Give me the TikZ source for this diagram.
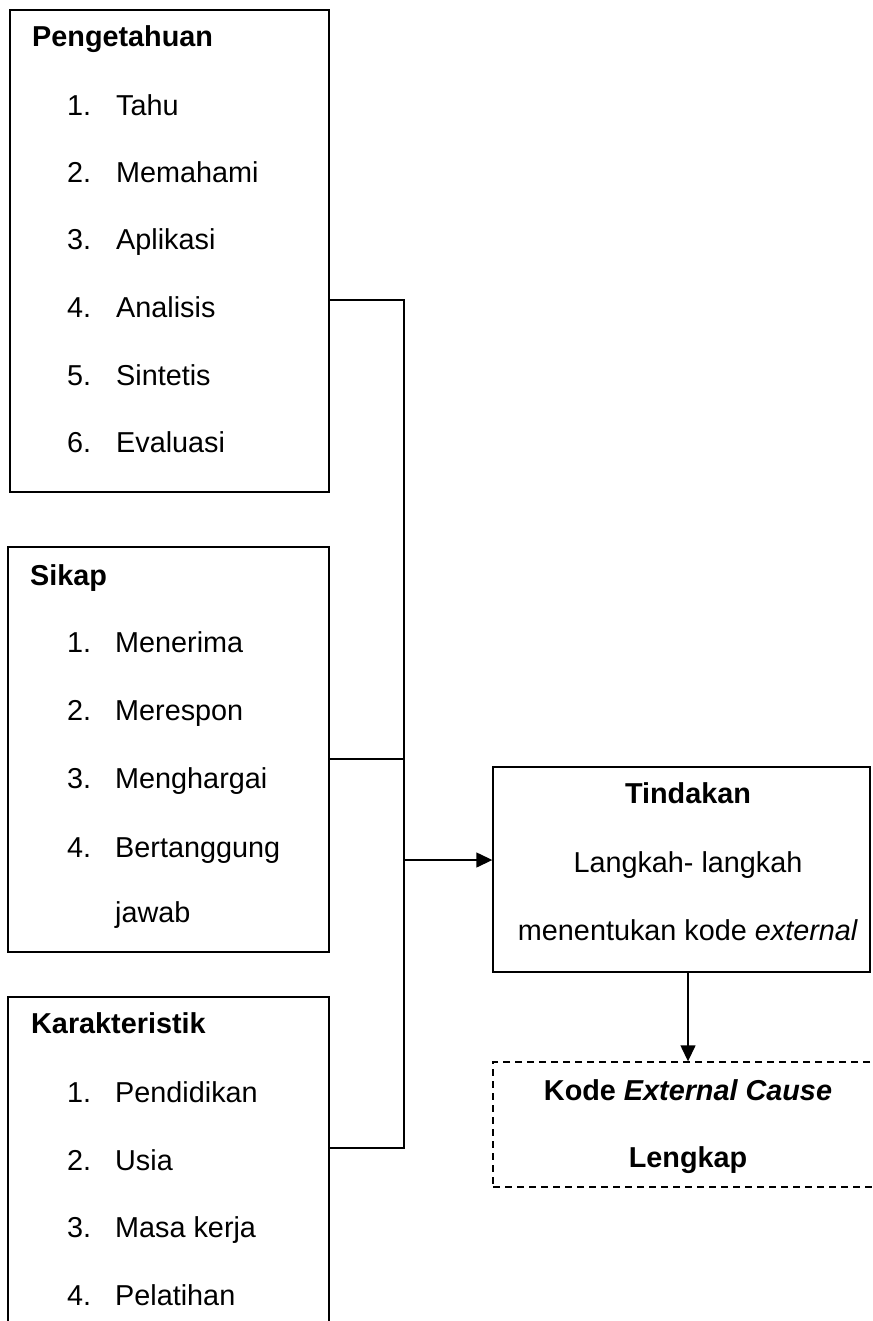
\documentclass[tikz,border=0pt]{standalone}
\usepackage{fontspec}
\setmainfont{Liberation Sans}
\usetikzlibrary{arrows.meta}
\tikzset{
  box/.style={draw=black, line width=1.4pt, inner sep=0pt, fill=none},
  dbox/.style={draw=black, line width=1.4pt, inner sep=0pt, dash pattern=on 7pt off 5pt},
  conn/.style={draw=black, line width=1.4pt},
  arr/.style={conn, -{Triangle[length=16pt,width=15pt]}},
  txt/.style={inner sep=0pt, anchor=base west, font=\fontsize{28.8}{34}\selectfont},
  ctxt/.style={inner sep=0pt, anchor=base, font=\fontsize{28.8}{34}\selectfont},
}
\begin{document}
\begin{tikzpicture}[x=1pt,y=-1pt]
\useasboundingbox (0,0) rectangle (872,1321);
\clip (0,0) rectangle (872,1321);
% boxes
\node[box, minimum width=319pt, minimum height=482pt] (peng) at (169.5,251) {};
\node[box, minimum width=321pt, minimum height=405pt] (sik) at (168.5,749.5) {};
\node[box, minimum width=321pt, minimum height=383pt] (kar) at (168.5,1188.5) {};
\node[box, minimum width=377pt, minimum height=205pt] (tind) at (681.5,869.5) {};
\node[dbox, minimum width=390pt, minimum height=125pt] (kode) at (688,1124.5) {};
% Pengetahuan text
\node[txt] (pt) at (32,47) {\bfseries Pengetahuan};
\node[txt] (pn1) at (67,116) {1.}; \node[txt] (pi1) at (116,116) {Tahu};
\node[txt] (pn2) at (67,183) {2.}; \node[txt] (pi2) at (116,183) {Memahami};
\node[txt] (pn3) at (67,250) {3.}; \node[txt] (pi3) at (116,250) {Aplikasi};
\node[txt] (pn4) at (67,317) {4.}; \node[txt] (pi4) at (116,317) {Analisis};
\node[txt] (pn5) at (67,385) {5.}; \node[txt] (pi5) at (116,385) {Sintetis};
\node[txt] (pn6) at (67,452) {6.}; \node[txt] (pi6) at (116,452) {Evaluasi};
% Sikap text
\node[txt] (st) at (30,585) {\bfseries Sikap};
\node[txt] (sn1) at (67,652) {1.}; \node[txt] (si1) at (115,652) {Menerima};
\node[txt] (sn2) at (67,720) {2.}; \node[txt] (si2) at (115,720) {Merespon};
\node[txt] (sn3) at (67,788) {3.}; \node[txt] (si3) at (115,788) {Menghargai};
\node[txt] (sn4) at (67,857) {4.}; \node[txt] (si4) at (115,857) {Bertanggung};
\node[txt] (si5) at (115,922) {jawab};
% Karakteristik text
\node[txt] (kt) at (31,1033) {\bfseries Karakteristik};
\node[txt] (kn1) at (67,1102) {1.}; \node[txt] (ki1) at (115,1102) {Pendidikan};
\node[txt] (kn2) at (67,1170) {2.}; \node[txt] (ki2) at (115,1170) {Usia};
\node[txt] (kn3) at (67,1237) {3.}; \node[txt] (ki3) at (115,1237) {Masa kerja};
\node[txt] (kn4) at (67,1305) {4.}; \node[txt] (ki4) at (115,1305) {Pelatihan};
% Tindakan text
\node[ctxt] (tt) at (688,803) {\bfseries Tindakan};
\node[ctxt] (tl1) at (688,872) {Langkah- langkah};
\node[ctxt] (tl2) at (688,940) {menentukan kode \textit{external}};
% Kode text
\node[ctxt] (kd1) at (688,1100) {\bfseries Kode \textit{External Cause}};
\node[ctxt] (kd2) at (688,1167) {\bfseries Lengkap};
% connectors
\coordinate (jp) at (404,300);
\coordinate (js) at (404,759);
\coordinate (ja) at (404,860);
\coordinate (jk) at (404,1148);
\draw[conn] (peng.east |- jp) -- (jp) -- (jk) -- (kar.east |- jk);
\draw[conn] (sik.east |- js) -- (js);
\draw[arr] (ja) -- (tind.west |- ja);
\draw[arr] (kode.north |- tind.south) -- (kode.north);
\end{tikzpicture}
\end{document}
